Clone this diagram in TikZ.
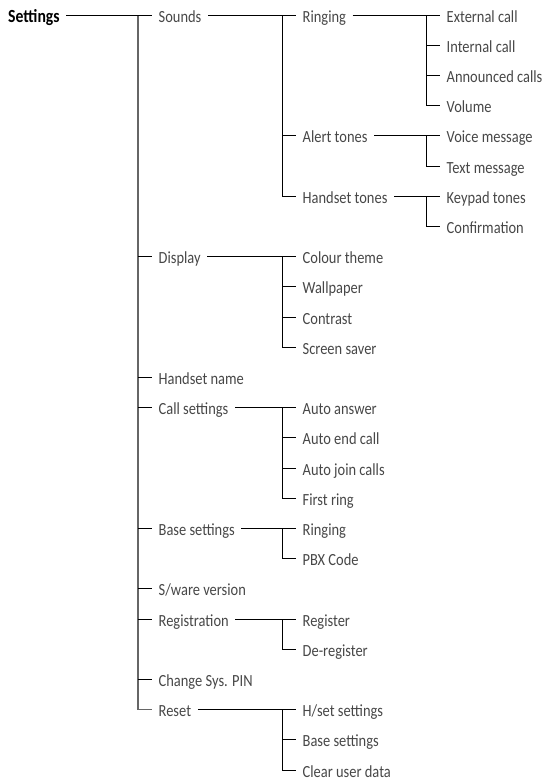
\documentclass[tikz,border=0pt]{standalone}
\usepackage{fontspec}
\setmainfont[FakeStretch=0.85]{Carlito}
\begin{document}
\begin{tikzpicture}[x=1pt,y=1pt,
  lbl/.style={inner xsep=6.5pt, inner ysep=0pt, text height=16pt, text depth=2pt,
    anchor=west, text=black!72, font=\fontsize{17}{19}\selectfont},
  rootlbl/.style={lbl, text=black, font=\fontsize{18.5}{20}\selectfont\bfseries},
  conn/.style={draw=black, line width=0.75pt},
  trunk/.style={draw=black!60, line width=1.3pt}
]
\useasboundingbox (0,0) rectangle (547,-780);
% root
\node[rootlbl] (settings) at (1.5,-15) {Settings};
% level 1 (west at 152)
\node[lbl] (sounds)   at (152,-15)    {Sounds};
\node[lbl] (display)  at (152,-256.6) {Display};
\node[lbl] (hname)    at (152,-377.4) {Handset name};
\node[lbl] (callset)  at (152,-407.6) {Call settings};
\node[lbl] (baseset)  at (152,-528.4) {Base settings};
\node[lbl] (sware)    at (152,-588.8) {S/ware version};
\node[lbl] (regis)    at (152,-619)   {Registration};
\node[lbl] (pin)      at (152,-679.4) {Change Sys. PIN};
\node[lbl] (reset)    at (152,-709.6) {Reset};
% level 2 (west at 296)
\node[lbl] (ringing)  at (296,-15)    {Ringing};
\node[lbl] (alert)    at (296,-135.8) {Alert tones};
\node[lbl] (htones)   at (296,-196.2) {Handset tones};
\node[lbl] (colour)   at (296,-256.6) {Colour theme};
\node[lbl] (wall)     at (296,-286.8) {Wallpaper};
\node[lbl] (contrast) at (296,-317)   {Contrast};
\node[lbl] (saver)    at (296,-347.2) {Screen saver};
\node[lbl] (autoans)  at (296,-407.6) {Auto answer};
\node[lbl] (autoend)  at (296,-437.8) {Auto end call};
\node[lbl] (autojoin) at (296,-468)   {Auto join calls};
\node[lbl] (firstring) at (296,-498.2) {First ring};
\node[lbl] (bring)    at (296,-528.4) {Ringing};
\node[lbl] (pbx)      at (296,-558.6) {PBX Code};
\node[lbl] (register) at (296,-619)   {Register};
\node[lbl] (dereg)    at (296,-649.2) {De-register};
\node[lbl] (hsetset)  at (296,-709.6) {H/set settings};
\node[lbl] (rbase)    at (296,-739.8) {Base settings};
\node[lbl] (clear)    at (296,-770)   {Clear user data};
% level 3 (west at 440)
\node[lbl] (extcall)  at (440,-15)    {External call};
\node[lbl] (intcall)  at (440,-45.2)  {Internal call};
\node[lbl] (announced) at (440,-75.4) {Announced calls};
\node[lbl] (volume)   at (440,-105.6) {Volume};
\node[lbl] (voice)    at (440,-135.8) {Voice message};
\node[lbl] (textmsg)  at (440,-166)   {Text message};
\node[lbl] (keypad)   at (440,-196.2) {Keypad tones};
\node[lbl] (confirm)  at (440,-226.4) {Confirmation};
% junctions
\coordinate (j0)  at (138,-15);
\coordinate (jso) at (282,-15);
\coordinate (jri) at (426,-15);
\coordinate (jal) at (426,-135.8);
\coordinate (jht) at (426,-196.2);
\coordinate (jdi) at (282,-256.6);
\coordinate (jca) at (282,-407.6);
\coordinate (jba) at (282,-528.4);
\coordinate (jre) at (282,-619);
\coordinate (jrs) at (282,-709.6);
% main trunk
\draw[trunk] (j0) |- (reset.west);
\draw[conn] (settings.east) -- (sounds.west);
\foreach \c in {display,hname,callset,baseset,sware,regis,pin}
  \draw[conn] (j0 |- \c.west) -- (\c.west);
% Sounds
\draw[conn] (sounds.east) -- (ringing.west);
\draw[conn] (jso) |- (htones.west);
\draw[conn] (jso |- alert.west) -- (alert.west);
% Ringing
\draw[conn] (ringing.east) -- (extcall.west);
\draw[conn] (jri) |- (volume.west);
\foreach \c in {intcall,announced}
  \draw[conn] (jri |- \c.west) -- (\c.west);
% Alert tones
\draw[conn] (alert.east) -- (voice.west);
\draw[conn] (jal) |- (textmsg.west);
% Handset tones
\draw[conn] (htones.east) -- (keypad.west);
\draw[conn] (jht) |- (confirm.west);
% Display
\draw[conn] (display.east) -- (colour.west);
\draw[conn] (jdi) |- (saver.west);
\foreach \c in {wall,contrast}
  \draw[conn] (jdi |- \c.west) -- (\c.west);
% Call settings
\draw[conn] (callset.east) -- (autoans.west);
\draw[conn] (jca) |- (firstring.west);
\foreach \c in {autoend,autojoin}
  \draw[conn] (jca |- \c.west) -- (\c.west);
% Base settings
\draw[conn] (baseset.east) -- (bring.west);
\draw[conn] (jba) |- (pbx.west);
% Registration
\draw[conn] (regis.east) -- (register.west);
\draw[conn] (jre) |- (dereg.west);
% Reset
\draw[conn] (reset.east) -- (hsetset.west);
\draw[conn] (jrs) |- (clear.west);
\draw[conn] (jrs |- rbase.west) -- (rbase.west);
\end{tikzpicture}
\end{document}
